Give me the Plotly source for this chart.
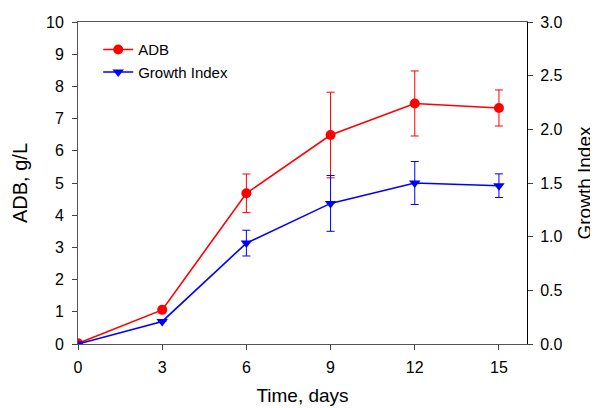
import plotly.graph_objects as go

days = [0, 3, 6, 9, 12, 15]
adb = [0.02, 1.06, 4.68, 6.49, 7.47, 7.33]
adb_err = [0.0, 0.0, 0.60, 1.33, 1.01, 0.56]
gi = [0.0, 0.21, 0.94, 1.31, 1.50, 1.475]
gi_err = [0.0, 0.0, 0.12, 0.26, 0.20, 0.11]

FONT = "Liberation Sans, Arial, sans-serif"

fig = go.Figure()
fig.add_trace(go.Scatter(
    x=days, y=adb, name="ADB", mode="lines+markers",
    line=dict(color="#ff0000", width=1.6),
    marker=dict(symbol="circle", size=10, color="#ff0000"),
    error_y=dict(type="data", array=adb_err, visible=True, color="#ff0000", thickness=1, width=4),
    yaxis="y",
))
fig.add_trace(go.Scatter(
    x=days, y=gi, name="Growth Index", mode="lines+markers",
    line=dict(color="#0000ff", width=1.6),
    marker=dict(symbol="triangle-down", size=10, color="#0000ff"),
    error_y=dict(type="data", array=gi_err, visible=True, color="#0000ff", thickness=1, width=4),
    yaxis="y2",
))

fig.update_layout(
    width=590, height=400,
    margin=dict(l=70, r=71, t=14, b=64),
    paper_bgcolor="white", plot_bgcolor="white",
    font=dict(family=FONT, color="black"),
    showlegend=True,
    legend=dict(x=0.045, y=0.965, xanchor="left", yanchor="top",
                font=dict(size=15, family=FONT), bgcolor="rgba(0,0,0,0)",
                tracegroupgap=0, itemwidth=30),
    xaxis=dict(range=[0, 16], tickvals=days, ticks="outside", ticklen=5,
               ticklabelstandoff=4,
               tickfont=dict(size=16), showline=True, linecolor="#555555", linewidth=1,
               mirror=True, showgrid=False, zeroline=False, automargin=False,
               title=dict(text="Time, days", font=dict(size=19), standoff=13)),
    yaxis=dict(range=[0, 10], dtick=1, ticks="outside", ticklen=5,
               ticklabelstandoff=5,
               tickfont=dict(size=16), showline=True, linecolor="#555555", linewidth=1,
               showgrid=False, zeroline=False, automargin=False,
               title=dict(text="ADB, g/L", font=dict(size=20), standoff=13)),
    yaxis2=dict(range=[0, 3], dtick=0.5, tickformat=".1f", overlaying="y", side="right",
                ticks="outside", ticklen=5, ticklabelstandoff=4, tickfont=dict(size=16),
                showline=True, linecolor="black", linewidth=1,
                showgrid=False, zeroline=False, automargin=False,
                title=dict(text="Growth Index", font=dict(size=19), standoff=16)),
)

fig.write_html("out.html")
